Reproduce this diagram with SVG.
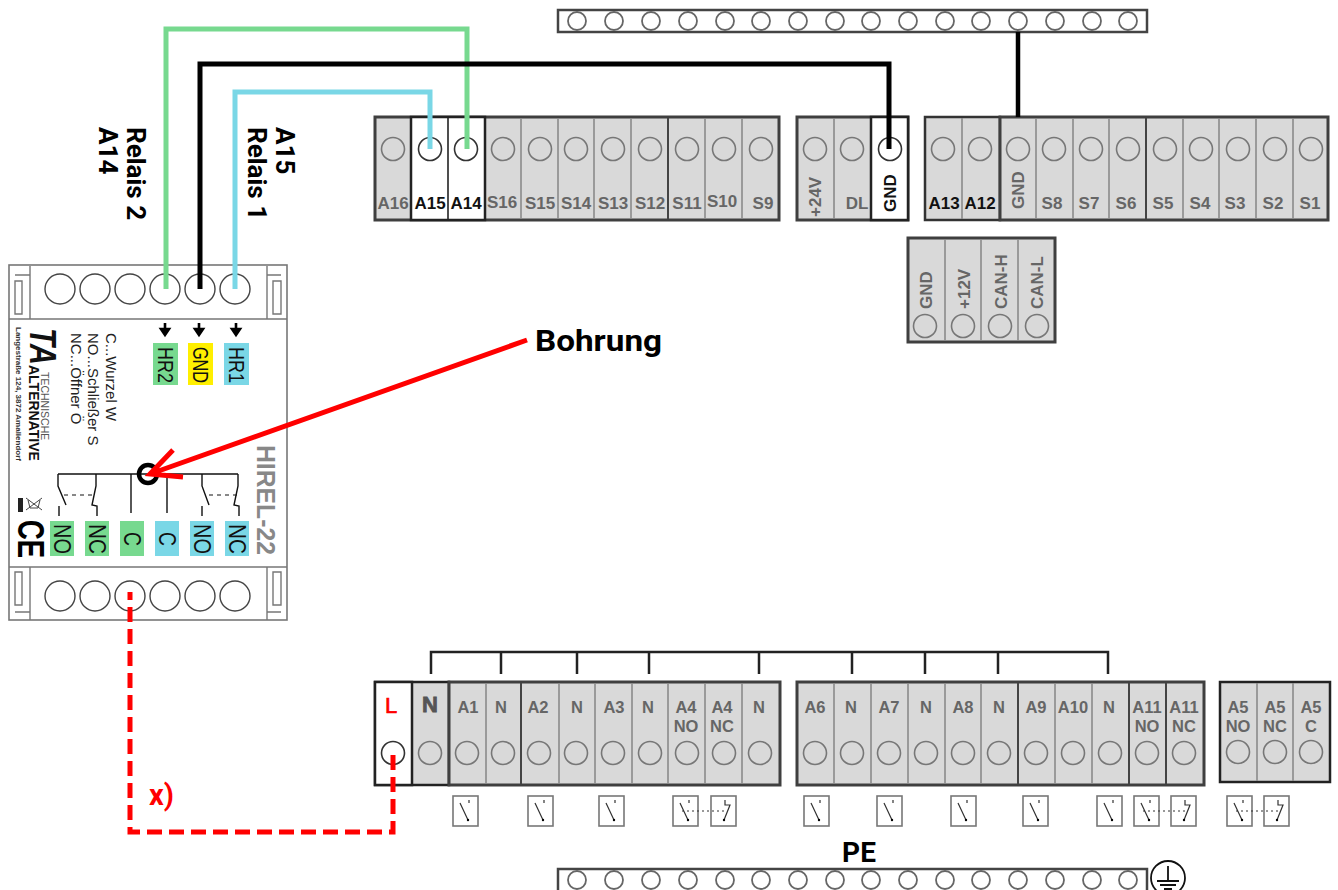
<svg xmlns="http://www.w3.org/2000/svg" xmlns:xlink="http://www.w3.org/1999/xlink" width="1338" height="890" viewBox="0 0 1338 890">
<style>
text{font-family:"Liberation Sans",Arial,sans-serif;font-weight:700}
.blk{fill:#d9d9d9;stroke:#3f3f3f;stroke-width:3}
.wblk{fill:#fff;stroke:#222;stroke-width:2.5}
.div{stroke:#8a8a8a;stroke-width:1.6}
.dk{stroke:#444;stroke-width:2;fill:none}
.h{fill:none;stroke:#777;stroke-width:1.6}
.hb{fill:none;stroke:#333;stroke-width:1.6}
.t{fill:#666;font-size:17px;text-anchor:middle}
.d{fill:#111;font-size:17px;text-anchor:middle}
.b2{font-size:16.5px}
.bar{fill:#fff;stroke:#444;stroke-width:2.5}
.bh{fill:#fff;stroke:#666;stroke-width:1.8}
.sw{fill:#fff;stroke:#777;stroke-width:1.6}
.sl{fill:none;stroke:#333;stroke-width:1.2}
.dev{fill:none;stroke:#777;stroke-width:1.4}
.dc{fill:#fff;stroke:#444;stroke-width:1.4}
.lab{font-weight:400;fill:#111;text-anchor:middle}
.thin{font-weight:400;fill:#222}
.sch{fill:none;stroke:#111;stroke-width:1.4}
.rb{font-family:Roboto,"Liberation Sans",sans-serif}
</style>
<defs>
<g id="h"><circle r="11.5" class="h"/></g>
<g id="hd"><circle r="11.5" class="hb"/></g>
<g id="b"><circle r="9" class="bh"/></g>
<g id="swno"><rect width="25" height="30" class="sw"/><path class="sl" d="M16 4v3M7 7L15 24"/><circle cx="15" cy="24" r="1.2"/></g>
<g id="swnc"><rect width="25" height="30" class="sw"/><path class="sl" d="M14 4v5h5L13 24"/><circle cx="13" cy="24" r="1.2"/></g>
<path id="arr" d="M0 0v7M-4 6L0 12L4 6Z" fill="#000" stroke="#000" stroke-width="2.6"/>
</defs>

<g id="bus-top">
<rect x="558" y="10" width="589" height="22" class="bar"/>
<use xlink:href="#b" x="577" y="21"/><use xlink:href="#b" x="614" y="21"/><use xlink:href="#b" x="651" y="21"/><use xlink:href="#b" x="688" y="21"/><use xlink:href="#b" x="725" y="21"/><use xlink:href="#b" x="761" y="21"/><use xlink:href="#b" x="798" y="21"/><use xlink:href="#b" x="835" y="21"/><use xlink:href="#b" x="871" y="21"/><use xlink:href="#b" x="908" y="21"/><use xlink:href="#b" x="945" y="21"/><use xlink:href="#b" x="981" y="21"/><use xlink:href="#b" x="1018" y="21"/><use xlink:href="#b" x="1055" y="21"/><use xlink:href="#b" x="1092" y="21"/><use xlink:href="#b" x="1128" y="21"/>
</g>

<g id="terminals-top-left">
<rect x="375" y="117" width="404" height="103" class="blk"/>
<rect x="411" y="117" width="74" height="103" class="wblk"/>
<path class="div" d="M521 118v101M558 118v101M594 118v101M631 118v101M705 118v101M742 118v101"/>
<path class="dk" d="M668 118v101"/>
<path stroke="#222" stroke-width="1.6" d="M448 118v101"/>
<use xlink:href="#h" x="393" y="149"/><use xlink:href="#hd" x="430" y="149"/><use xlink:href="#hd" x="466" y="149"/><use xlink:href="#h" x="503" y="149"/><use xlink:href="#h" x="540" y="149"/><use xlink:href="#h" x="576" y="149"/><use xlink:href="#h" x="613" y="149"/><use xlink:href="#h" x="650" y="149"/><use xlink:href="#h" x="687" y="149"/><use xlink:href="#h" x="724" y="149"/><use xlink:href="#h" x="761" y="149"/>
<text class="t" x="393" y="209">A16</text><text class="d" x="430" y="209">A15</text><text class="d" x="466" y="209">A14</text><text class="t" x="502" y="208">S16</text><text class="t" x="540" y="209">S15</text><text class="t" x="576" y="209">S14</text><text class="t" x="613" y="209">S13</text><text class="t" x="650" y="209">S12</text><text class="t" x="687" y="209">S11</text><text class="t" x="722" y="207">S10</text><text class="t" x="763" y="209">S9</text>
</g>

<g id="terminals-top-mid">
<rect x="797" y="117" width="111" height="103" class="blk"/>
<rect x="871" y="117" width="37" height="103" class="wblk"/>
<path class="div" d="M834 118v101"/>
<use xlink:href="#h" x="815" y="149"/><use xlink:href="#h" x="852" y="149"/><use xlink:href="#hd" x="890" y="149"/>
<text class="t" transform="translate(821 217) rotate(-90)" style="text-anchor:start">+24V</text>
<text class="t" x="857" y="209">DL</text>
<text class="d" transform="translate(896 212) rotate(-90)" style="text-anchor:start">GND</text>
</g>

<g id="terminals-top-right">
<rect x="925" y="117" width="75" height="103" fill="#d9d9d9" stroke="#333" stroke-width="2.5"/>
<rect x="1000" y="117" width="328" height="103" class="blk"/>
<path class="div" d="M962 118v101M1036 118v101M1073 118v101M1109 118v101M1183 118v101M1219 118v101M1256 118v101M1293 118v101"/>
<path class="dk" d="M1146 118v101"/>
<use xlink:href="#h" x="943" y="149"/><use xlink:href="#h" x="980" y="149"/><use xlink:href="#h" x="1018" y="149"/><use xlink:href="#h" x="1054" y="149"/><use xlink:href="#h" x="1091" y="149"/><use xlink:href="#h" x="1128" y="149"/><use xlink:href="#h" x="1165" y="149"/><use xlink:href="#h" x="1201" y="149"/><use xlink:href="#h" x="1238" y="149"/><use xlink:href="#h" x="1275" y="149"/><use xlink:href="#h" x="1311" y="149"/>
<text class="d" x="944" y="209">A13</text><text class="d" x="980" y="209">A12</text>
<text class="t" transform="translate(1024 209) rotate(-90)" style="text-anchor:start">GND</text>
<text class="t" x="1052" y="209">S8</text><text class="t" x="1089" y="209">S7</text><text class="t" x="1126" y="209">S6</text><text class="t" x="1163" y="209">S5</text><text class="t" x="1200" y="209">S4</text><text class="t" x="1235" y="209">S3</text><text class="t" x="1273" y="209">S2</text><text class="t" x="1310" y="209">S1</text>
</g>

<g id="terminals-can">
<rect x="908" y="238" width="147" height="104" class="blk"/>
<path class="div" d="M945 239v102M981 239v102M1018 239v102"/>
<use xlink:href="#h" x="925" y="326"/><use xlink:href="#h" x="963" y="326"/><use xlink:href="#h" x="1000" y="326"/><use xlink:href="#h" x="1037" y="326"/>
<text class="t" transform="translate(932 309) rotate(-90)" style="text-anchor:start">GND</text>
<text class="t" transform="translate(970 309) rotate(-90)" style="text-anchor:start">+12V</text>
<text class="t" transform="translate(1007 309) rotate(-90)" style="text-anchor:start">CAN-H</text>
<text class="t" transform="translate(1043 309) rotate(-90)" style="text-anchor:start">CAN-L</text>
</g>

<g id="terminals-bottom-left">
<rect x="375" y="682" width="74" height="103" fill="#d9d9d9" stroke="#222" stroke-width="2.5"/>
<rect x="375" y="682" width="37" height="103" class="wblk"/>
<rect x="449" y="682" width="331" height="103" class="blk"/>
<path class="div" d="M486 683v101M559 683v101M595 683v101M632 683v101M668 683v101M705 683v101M742 683v101"/>
<path class="dk" d="M521 683v101"/>
<use xlink:href="#hd" x="393" y="753"/><use xlink:href="#h" x="430" y="753"/><use xlink:href="#h" x="467" y="753"/><use xlink:href="#h" x="503" y="753"/><use xlink:href="#h" x="539" y="753"/><use xlink:href="#h" x="576" y="753"/><use xlink:href="#h" x="613" y="753"/><use xlink:href="#h" x="650" y="753"/><use xlink:href="#h" x="687" y="753"/><use xlink:href="#h" x="724" y="753"/><use xlink:href="#h" x="760" y="753"/>
<text x="391" y="713" font-size="22" fill="#f00" text-anchor="middle" stroke="#f00" stroke-width=".7" style="font-weight:400">L</text>
<text x="430" y="712" font-size="22" fill="#555" text-anchor="middle" stroke="#555" stroke-width=".8">N</text>
<g class="b2"><text class="t b2" x="468" y="713">A1</text><text class="t b2" x="501" y="713">N</text><text class="t b2" x="538" y="713">A2</text><text class="t b2" x="577" y="713">N</text><text class="t b2" x="614" y="713">A3</text><text class="t b2" x="648" y="713">N</text>
<text class="t b2" x="686" y="713">A4</text><text class="t b2" x="686" y="732">NO</text><text class="t b2" x="722" y="713">A4</text><text class="t b2" x="722" y="732">NC</text><text class="t b2" x="759" y="713">N</text></g>
</g>

<g id="terminals-bottom-mid">
<rect x="797" y="682" width="407" height="103" class="blk"/>
<path class="div" d="M834 683v101M871 683v101M908 683v101M945 683v101M981 683v101M1055 683v101M1092 683v101"/>
<path class="dk" d="M1018 683v101M1129 683v101M1166 683v101"/>
<use xlink:href="#h" x="815" y="753"/><use xlink:href="#h" x="852" y="753"/><use xlink:href="#h" x="889" y="753"/><use xlink:href="#h" x="926" y="753"/><use xlink:href="#h" x="963" y="753"/><use xlink:href="#h" x="999" y="753"/><use xlink:href="#h" x="1036" y="753"/><use xlink:href="#h" x="1073" y="753"/><use xlink:href="#h" x="1110" y="753"/><use xlink:href="#h" x="1147" y="753"/><use xlink:href="#h" x="1184" y="753"/>
<text class="t b2" x="815" y="713">A6</text><text class="t b2" x="851" y="713">N</text><text class="t b2" x="889" y="713">A7</text><text class="t b2" x="926" y="713">N</text><text class="t b2" x="963" y="713">A8</text><text class="t b2" x="999" y="713">N</text><text class="t b2" x="1036" y="713">A9</text><text class="t b2" x="1073" y="713">A10</text><text class="t b2" x="1109" y="713">N</text>
<text class="t b2" x="1147" y="713">A11</text><text class="t b2" x="1147" y="732">NO</text><text class="t b2" x="1184" y="713">A11</text><text class="t b2" x="1184" y="732">NC</text>
</g>

<g id="terminals-bottom-right">
<rect x="1220" y="682" width="110" height="100" fill="#d9d9d9" stroke="#222" stroke-width="2.5"/>
<path class="div" d="M1257 683v98M1293 683v98"/>
<use xlink:href="#h" x="1238" y="752"/><use xlink:href="#h" x="1275" y="752"/><use xlink:href="#h" x="1311" y="752"/>
<text class="t b2" x="1238" y="713">A5</text><text class="t b2" x="1238" y="732">NO</text><text class="t b2" x="1275" y="713">A5</text><text class="t b2" x="1275" y="732">NC</text><text class="t b2" x="1311" y="713">A5</text><text class="t b2" x="1311" y="732">C</text>
</g>

<g id="switches">
<use xlink:href="#swno" x="453" y="796"/><use xlink:href="#swno" x="528" y="796"/><use xlink:href="#swno" x="599" y="796"/><use xlink:href="#swno" x="673" y="796"/><use xlink:href="#swnc" x="711" y="796"/>
<use xlink:href="#swno" x="804" y="796"/><use xlink:href="#swno" x="877" y="796"/><use xlink:href="#swno" x="951" y="796"/><use xlink:href="#swno" x="1023" y="796"/><use xlink:href="#swno" x="1097" y="796"/><use xlink:href="#swno" x="1134" y="796"/><use xlink:href="#swnc" x="1171" y="796"/><use xlink:href="#swno" x="1227" y="796"/><use xlink:href="#swnc" x="1264" y="796"/>
<path fill="none" stroke="#333" stroke-width="1" stroke-dasharray="2 3" d="M682 811H726M1143 811H1186M1236 811H1279"/>
</g>

<g id="bus-bottom">
<rect x="558" y="869" width="589" height="24" class="bar"/>
<use xlink:href="#b" x="577" y="880"/><use xlink:href="#b" x="614" y="880"/><use xlink:href="#b" x="651" y="880"/><use xlink:href="#b" x="688" y="880"/><use xlink:href="#b" x="725" y="880"/><use xlink:href="#b" x="761" y="880"/><use xlink:href="#b" x="798" y="880"/><use xlink:href="#b" x="835" y="880"/><use xlink:href="#b" x="871" y="880"/><use xlink:href="#b" x="908" y="880"/><use xlink:href="#b" x="945" y="880"/><use xlink:href="#b" x="981" y="880"/><use xlink:href="#b" x="1018" y="880"/><use xlink:href="#b" x="1055" y="880"/><use xlink:href="#b" x="1092" y="880"/><use xlink:href="#b" x="1128" y="880"/>
<text x="859" y="862" font-size="28" text-anchor="middle" fill="#000" class="rb">PE</text>
<circle cx="1168" cy="878" r="17" fill="#fff" stroke="#111" stroke-width="1.8"/>
<path stroke="#111" stroke-width="1.8" fill="none" d="M1168 866v15M1157 881h22M1160 885h16M1164 889h8"/>
</g>

<g id="relay">
<rect x="9" y="265" width="278" height="355" fill="#fff" stroke="#777" stroke-width="1.6"/>
<path class="dev" d="M9 319H287M9 567H287M30 266V319M267 266V319M30 567V620M267 567V620"/>
<path class="dev" d="M15 281h7v33h-7zM273 281h8v33h-8zM15 572h7v33h-7zM273 572h8v33h-8zM267 612h14M267 275h14M30 612H15M30 275H15"/>
<circle class="dc" cx="60" cy="289" r="15"/><circle class="dc" cx="95" cy="289" r="15"/><circle class="dc" cx="130" cy="289" r="15"/><circle class="dc" cx="165" cy="289" r="15"/><circle class="dc" cx="200" cy="289" r="15"/><circle class="dc" cx="235" cy="289" r="15"/>
<circle class="dc" cx="60" cy="596" r="15"/><circle class="dc" cx="95" cy="596" r="15"/><circle class="dc" cx="130" cy="596" r="15"/><circle class="dc" cx="165" cy="596" r="15"/><circle class="dc" cx="200" cy="596" r="15"/><circle class="dc" cx="235" cy="596" r="15"/>
<use xlink:href="#arr" x="165" y="323"/><use xlink:href="#arr" x="199" y="323"/><use xlink:href="#arr" x="236" y="323"/>
<rect x="153" y="343" width="25" height="42" fill="#77d98f"/><rect x="188" y="343" width="25" height="42" fill="#ffef00"/><rect x="224" y="343" width="25" height="42" fill="#7ad7e6"/>
<text class="lab" font-size="22" textLength="36" lengthAdjust="spacingAndGlyphs" transform="translate(158 365) rotate(90)">HR2</text><text class="lab" font-size="22" textLength="36" lengthAdjust="spacingAndGlyphs" transform="translate(193 365) rotate(90)">GND</text><text class="lab" font-size="22" textLength="36" lengthAdjust="spacingAndGlyphs" transform="translate(229 365) rotate(90)">HR1</text>
<rect x="50" y="521" width="24" height="35" fill="#77d98f"/><rect x="85" y="521" width="24" height="35" fill="#77d98f"/><rect x="120" y="521" width="24" height="35" fill="#77d98f"/><rect x="155" y="521" width="24" height="35" fill="#7ad7e6"/><rect x="190" y="521" width="24" height="35" fill="#7ad7e6"/><rect x="225" y="521" width="24" height="35" fill="#7ad7e6"/>
<text class="lab" font-size="23" textLength="30" lengthAdjust="spacingAndGlyphs" transform="translate(54 539) rotate(90)">NO</text><text class="lab" font-size="23" textLength="30" lengthAdjust="spacingAndGlyphs" transform="translate(89 539) rotate(90)">NC</text><text class="lab" font-size="23" textLength="14" lengthAdjust="spacingAndGlyphs" transform="translate(124 539) rotate(90)">C</text><text class="lab" font-size="23" textLength="14" lengthAdjust="spacingAndGlyphs" transform="translate(159 539) rotate(90)">C</text><text class="lab" font-size="23" textLength="30" lengthAdjust="spacingAndGlyphs" transform="translate(194 539) rotate(90)">NO</text><text class="lab" font-size="23" textLength="30" lengthAdjust="spacingAndGlyphs" transform="translate(229 539) rotate(90)">NC</text>
<path class="sch" d="M58 474H238M131 474V513M167 474V513M58 474V486L66 505M59 506V516M96 474V486L92 505L97 506V516M202 474V486L209 505M202 506V516M238 474V486L234 505L239 506V516"/>
<path fill="none" stroke="#111" stroke-width="1" stroke-dasharray="4 4" d="M64 495H94M209 495H237"/>
<text transform="translate(106 333) rotate(90)" font-size="15" class="thin">C...Wurzel W</text>
<text transform="translate(88 333) rotate(90)" font-size="15" class="thin">NO...Schließer S</text>
<text transform="translate(71 333) rotate(90)" font-size="15" class="thin">NC...Öffner Ö</text>
<text transform="translate(41 372) rotate(90)" font-size="10.5" style="font-weight:400" fill="#555">TECHNISCHE</text>
<text transform="translate(29 365) rotate(90)" font-size="14" fill="#111">ALTERNATIVE</text>
<text transform="translate(16 327) rotate(90)" font-size="8" fill="#333">Langestraße 124, 3872 Amaliendorf</text>
<text transform="translate(30 328) rotate(90)" font-size="36" font-style="italic" fill="#111" textLength="37" lengthAdjust="spacingAndGlyphs">TA</text>
<text transform="translate(257 445) rotate(90)" font-size="25" fill="#888" textLength="110" lengthAdjust="spacingAndGlyphs">HIREL-22</text>
<text transform="translate(18 520) rotate(90)" font-size="37" fill="#000" textLength="38" lengthAdjust="spacingAndGlyphs">CE</text>
<path fill="none" stroke="#444" stroke-width="1" d="M26 498L42 510M26 510L42 498M28 500L30 508H38L40 500"/>
<rect x="18" y="498" width="5" height="14" fill="#222"/>
</g>

<g id="connectors" fill="none">
<path stroke="#77d98f" stroke-width="5" d="M166 289V29H467V149"/>
<path stroke="#000" stroke-width="5" d="M200 289V64H889V149"/>
<path stroke="#7ad7e6" stroke-width="5" d="M235 289V92H430V149"/>
<path stroke="#000" stroke-width="4.5" d="M1018 32V117"/>
<path stroke="#222" stroke-width="2.5" d="M431 674V652H1108V674M501 652V674M577 652V674M649 652V674M759 652V674M852 652V674M925 652V674M998 652V674"/>
<path stroke="#f00" stroke-width="5" stroke-dasharray="15 7" stroke-dashoffset="7" d="M130 592V832H393V752"/>
<circle cx="148" cy="474" r="9" stroke="#000" stroke-width="4.5"/>
<path stroke="#f00" stroke-width="5" d="M527 340L150 474M173 450L150 474L183 477"/>
</g>

<g id="annotations" fill="#000">
<text class="rb" transform="translate(127 127) rotate(90)" font-size="26">Relais 2</text>
<text class="rb" transform="translate(99 127) rotate(90)" font-size="26">A14</text>
<text class="rb" transform="translate(248 127) rotate(90)" font-size="26">Relais 1</text>
<text class="rb" transform="translate(276 127) rotate(90)" font-size="26">A15</text>
<text class="rb" x="535" y="351" font-size="30" textLength="127" lengthAdjust="spacingAndGlyphs">Bohrung</text>
<text class="rb" x="149" y="805" font-size="29" fill="#f00">x)</text>
</g>
</svg>
